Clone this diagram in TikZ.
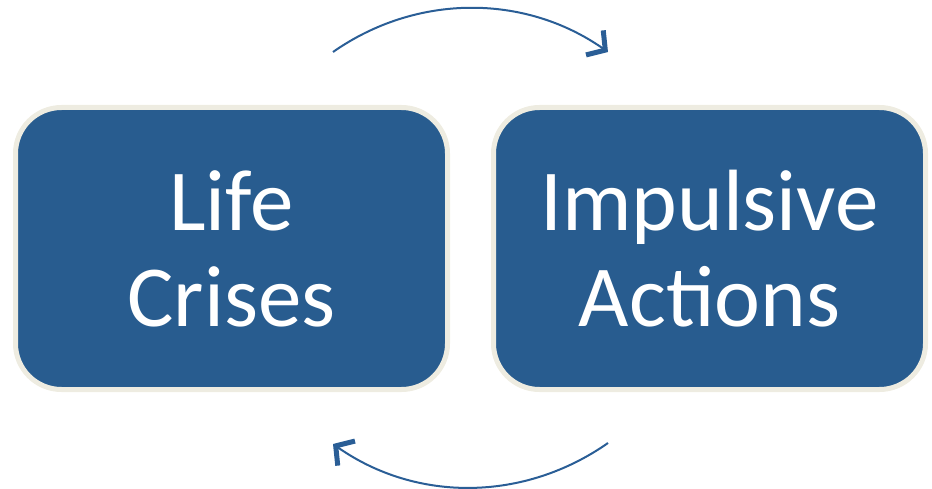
\documentclass[tikz,border=0pt]{standalone}
\usepackage{fontspec}
\setmainfont{Carlito}
\usetikzlibrary{arrows.meta}
\definecolor{boxblue}{RGB}{40,92,143}
\definecolor{boxrim}{RGB}{238,236,225}
\definecolor{arrowblue}{RGB}{42,94,150}
\begin{document}
\begin{tikzpicture}[x=1pt,y=-1pt,
  stagebox/.style={rectangle, rounded corners=46pt, fill=boxblue, draw=boxrim,
    line width=5pt, minimum width=432pt, minimum height=282pt, inner sep=0pt,
    text=white, align=center, font=\fontsize{87}{96}\selectfont},
  cycle/.style={draw=arrowblue, line width=2pt,
    -{Straight Barb[length=13pt,width=30pt,line width=5pt]}}]
  \useasboundingbox (0,0) rectangle (932,489);
  \node[stagebox] (crises) at (231.5,248.5) {Life\\Crises};
  \node[stagebox] (actions) at (709.5,248.5) {Impulsive\\Actions};
  % free ends of the two curved arrows
  \coordinate (t1) at (333,52);
  \coordinate (t2) at (608,52);
  \coordinate (b1) at (608,443);
  \coordinate (b2) at (333,444);
  \draw[cycle] (t1) to[out=35,in=145,looseness=0.95] (t2);
  \draw[cycle] (b1) to[out=-145,in=-35,looseness=0.95] (b2);
\end{tikzpicture}
\end{document}
